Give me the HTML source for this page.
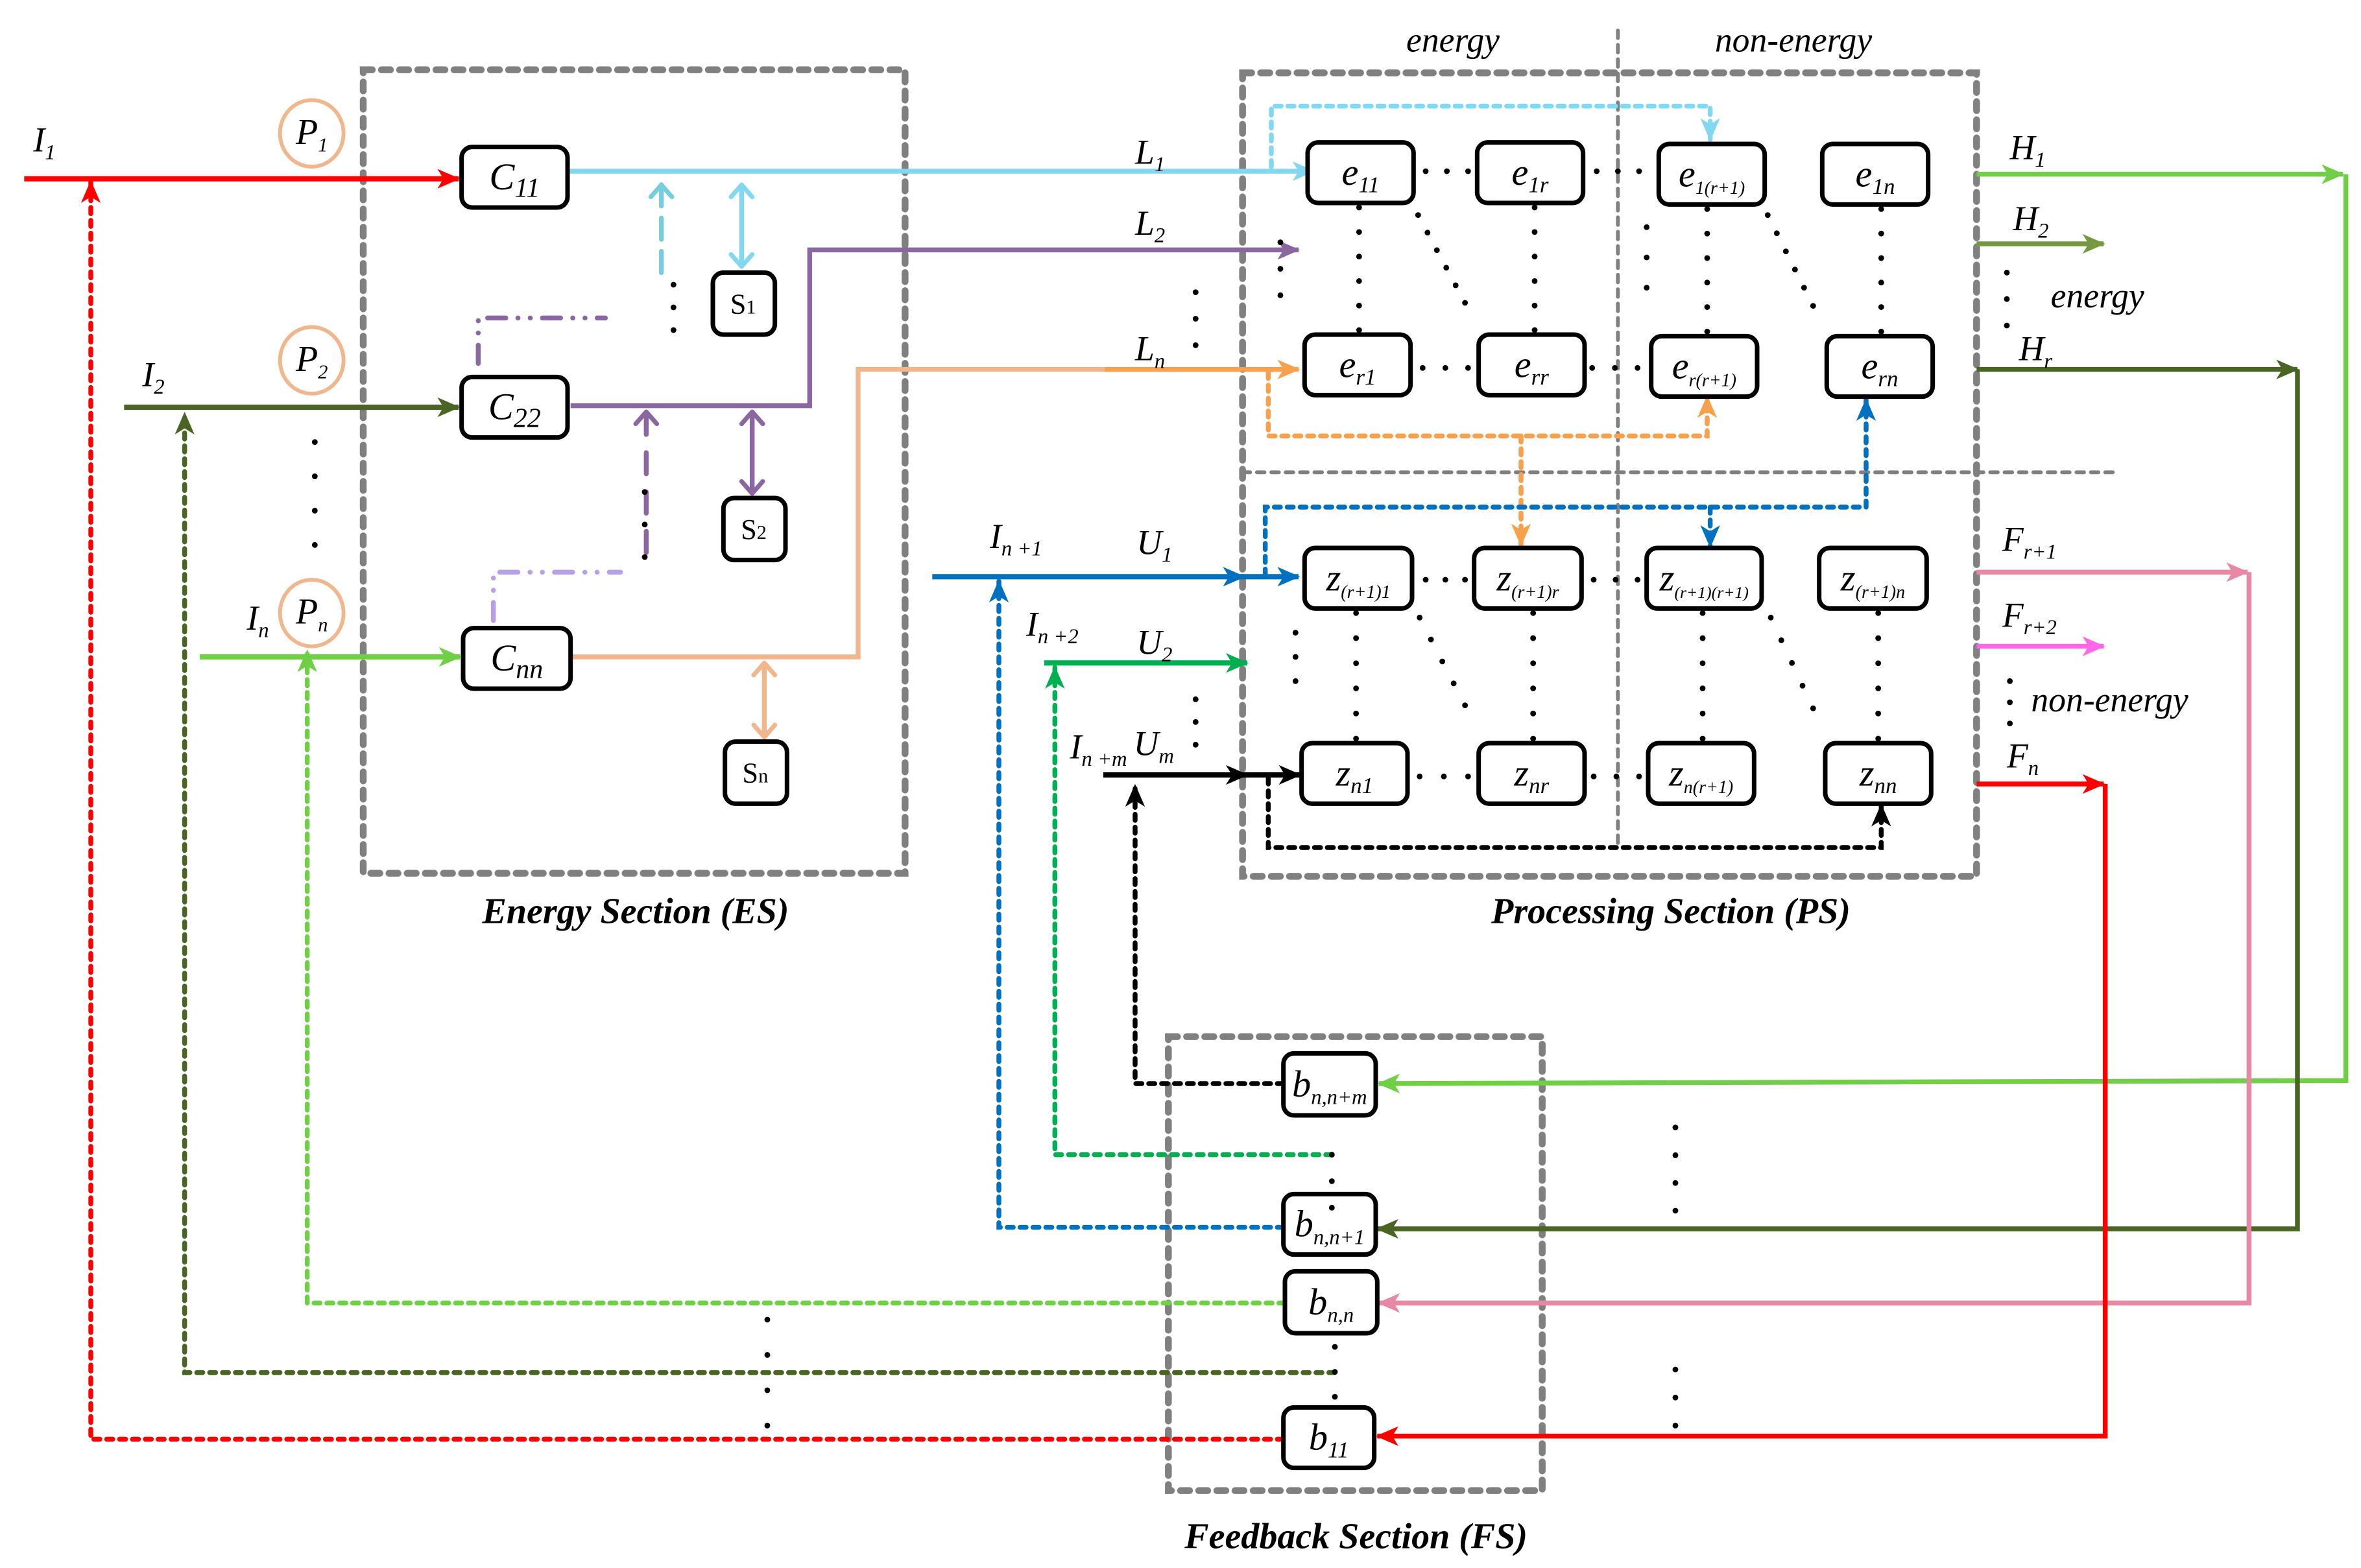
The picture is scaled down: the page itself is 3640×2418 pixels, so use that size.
<!DOCTYPE html>
<html><head><meta charset="utf-8"><style>
html,body{margin:0;padding:0;background:#fff;}
svg{display:block;}
svg text{font-family:"Liberation Serif","Times New Roman",serif !important;font-style:italic;fill:#000;}
</style></head><body>
<svg id="s" xmlns="http://www.w3.org/2000/svg" width="3640" height="2418" viewBox="0 0 1560 1036" font-family="Liberation Serif, serif">
</svg>
<script>
var o='';
var cols={red:'#ff0000',dg:'#4a6424',lg:'#6fcf45',lb:'#82d8f0',cy:'#74cedd',pu:'#8a67a0',lav:'#b8a0e8',pe:'#f2b68c',or:'#f8a04c',bl:'#0070c0',gr:'#00b050',bk:'#000000',ol:'#76983e',pk:'#e888a4',mg:'#ff66e8'};
var defs='<defs>';
for(var k in cols){
 defs+='<marker id="f'+k+'" markerUnits="userSpaceOnUse" markerWidth="16" markerHeight="14" refX="14" refY="7" orient="auto"><path d="M0,0.5 L15,7 L0,13.5 L4,7 z" fill="'+cols[k]+'"/></marker>';
 defs+='<marker id="c'+k+'" markerUnits="userSpaceOnUse" markerWidth="16" markerHeight="18" refX="10" refY="9" orient="auto"><path d="M2,2 L10,9 L2,16" fill="none" stroke="'+cols[k]+'" stroke-width="3" stroke-linecap="round" stroke-linejoin="round"/></marker>';
 defs+='<marker id="cs'+k+'" markerUnits="userSpaceOnUse" markerWidth="16" markerHeight="18" refX="2" refY="9" orient="auto"><path d="M10,2 L2,9 L10,16" fill="none" stroke="'+cols[k]+'" stroke-width="3" stroke-linecap="round" stroke-linejoin="round"/></marker>';
}
defs+='</defs>';
o+=defs;
function P(d,c,opt){opt=opt||{};var w=opt.w||3.2;var s='<path d="'+d+'" fill="none" stroke="'+cols[c]+'" stroke-width="'+w+'" stroke-linejoin="miter"';
 if(opt.dash)s+=' stroke-dasharray="'+opt.dash+'" stroke-linecap="round"';
 if(opt.end)s+=' marker-end="url(#'+opt.end+c+')"';
 if(opt.start)s+=' marker-start="url(#'+opt.start+c+')"';
 s+='/>';o+=s;}
var DD='4 4.5';
function G(d,w,dash){o+='<path d="'+d+'" fill="none" stroke="#808080" stroke-width="'+w+'" stroke-dasharray="'+dash+'" stroke-linecap="round"/>';}
G('M240,46 H598 V577 H240 Z',4.5,'6 6');
G('M821,48 H1306 V579 H821 Z',4.5,'6 6');
G('M772,685 H1019 V985 H772 Z',4.5,'6 6');
G('M1069,20 V560',2.5,'5 4.5');
G('M821,312 H1400',2.5,'5 4.5');
function dot(x,y){o+='<circle cx="'+x+'" cy="'+y+'" r="1.9" fill="#000"/>';}
function dl(x1,y1,x2,y2,n){for(var i=0;i<n;i++){var t=n==1?0:i/(n-1);dot(x1+(x2-x1)*t,y1+(y2-y1)*t);}}
var FF=' font-family="Liberation Serif, Times New Roman, serif" font-style="italic"';
function N(x,y,w,h,lab){o+='<rect x="'+x+'" y="'+y+'" width="'+w+'" height="'+h+'" rx="7" fill="#fff" stroke="#000" stroke-width="3"/>';
 o+='<text'+FF+' x="'+(x+w/2)+'" y="'+(y+h/2+8)+'" text-anchor="middle" font-size="25">'+lab+'</text>';}
function sub(b,s,fs){return b+'<tspan font-size="'+(fs||14)+'" dy="5">'+s+'</tspan>';}
P('M16,118 H303','red',{end:'f',w:3.5});
P('M82,269 H303','dg',{end:'f',w:3.5});
P('M132,434 H304','lg',{end:'f',w:3.5});
P('M376,113 H868','lb',{end:'f'});
P('M490,176 V122','lb',{end:'c',start:'cs'});
P('M437,180 V122','cy',{end:'c',dash:'14 8'});
P('M377,268 H535 V165 H858','pu',{end:'f'});
P('M497,326 V272','pu',{end:'c',start:'cs'});
P('M427,365 V272','pu',{end:'c',dash:'14 12'});
P('M316,240 V210 H400','pu',{dash:'12 8 0.1 8 0.1 8',w:3.2});
P('M378,434 H567 V244 H732','pe',{});
P('M730,244 H858','or',{end:'f'});
P('M505,487 V438','pe',{end:'c',start:'cs'});
P('M326,410 V378 H410','lav',{dash:'12 8 0.1 8 0.1 8',w:3.2});
P('M840,110 V70 H1130 V92','lb',{dash:DD,end:'f'});
P('M838,246 V288 H1128 V262','or',{dash:DD,end:'f'});
P('M1005,288 V360','or',{dash:DD,end:'f'});
P('M836,380 V335 H1233 V264','bl',{dash:DD,end:'f'});
P('M1130,335 V361','bl',{dash:DD,end:'f'});
P('M838,514 V560 H1243 V532','bk',{dash:DD,end:'f'});
P('M616,381 H822','bl',{end:'f',w:3.5});P('M820,381 H858','bl',{end:'f',w:3.5});
P('M690,438 H824','gr',{end:'f',w:3.5});
P('M729,512 H824','bk',{end:'f',w:3.5});P('M820,512 H859','bk',{end:'f',w:3.5});
P('M1306,115 H1548','lg',{end:'f'});
P('M1550,115 V714 L911,716','lg',{end:'f'});
P('M1306,161 H1390','ol',{end:'f'});
P('M1306,244 H1518','dg',{end:'f'});
P('M1518,244 V812 H910','dg',{end:'f'});
P('M1306,378 H1485','pk',{end:'f'});
P('M1486,378 V861 H911','pk',{end:'f'});
P('M1306,427 H1390','mg',{end:'f'});
P('M1306,518 H1390','red',{end:'f'});
P('M1391,518 V949 H910','red',{end:'f'});
P('M848,716 H750 V519','bk',{dash:DD,end:'f'});
P('M880,763 H697 V441','gr',{dash:DD,end:'f'});
P('M848,811 H660 V384','bl',{dash:DD,end:'f'});
P('M849,861 H203 V430','lg',{dash:DD,end:'f'});
P('M882,907 H122 V273','dg',{dash:DD,end:'f'});
P('M848,951 H60 V120','red',{dash:DD,end:'f'});
function C(x,y,lab){o+='<ellipse cx="'+x+'" cy="'+y+'" rx="21" ry="22" fill="none" stroke="#f2b68c" stroke-width="2.5"/><text'+FF+' x="'+(x)+'" y="'+(y+7)+'" text-anchor="middle" font-size="24">'+lab+'</text>';}
C(206,88,sub('P','1',13));C(206,238,sub('P','2',13));C(206,405,sub('P','n',13));
N(305,97,70,40,sub('C','11',18));N(305,249,70,40,sub('C','22',18));N(306,415,71,40,sub('C','nn',18));
function S(x,y,lab){o+='<rect x="'+x+'" y="'+y+'" width="41" height="41" rx="7" fill="#fff" stroke="#000" stroke-width="3"/><text font-family="Liberation Serif, Times New Roman, serif" x="'+(x+20)+'" y="'+(y+27)+'" text-anchor="middle" font-size="19" style="font-style:normal !important">S<tspan font-size="13">'+lab+'</tspan></text>';}
S(471,180,'1');S(478,329,'2');S(479,490,'n');
var ew=70,eh=40;
N(864,94,ew,eh,sub('e','11',15));N(976,94,ew,eh,sub('e','1r',15));N(1096,95,ew,eh,sub('e','1(r+1)',12));N(1204,95,ew,eh,sub('e','1n',15));
N(862,221,ew,eh,sub('e','r1',15));N(977,221,ew,eh,sub('e','rr',15));N(1091,222,ew,eh,sub('e','r(r+1)',12));N(1207,222,ew,eh,sub('e','rn',15));
N(862,362,71,40,sub('z','(r+1)1',12));N(974,362,71,40,sub('z','(r+1)r',12));N(1088,362,76,40,sub('z','(r+1)(r+1)',11));N(1202,362,71,40,sub('z','(r+1)n',12));
N(860,491,70,40,sub('z','n1',15));N(977,491,70,40,sub('z','nr',15));N(1089,491,70,40,sub('z','n(r+1)',12));N(1206,491,70,40,sub('z','nn',15));
N(848,696,61,41,sub('b','n,n+m',14));N(848,789,61,40,sub('b','n,n+1',14));N(849,840,61,41,sub('b','n,n',14));N(848,930,60,40,sub('b','11',15));
dl(942,113,970,113,3);dl(1055,113,1083,113,3);
dl(940,243,970,243,3);dl(1052,243,1082,243,3);
dl(942,383,968,383,3);dl(1053,383,1082,383,3);
dl(938,513,970,513,3);dl(1053,513,1083,513,3);
dl(898,137,898,218,6);dl(1014,137,1014,218,6);dl(1128,138,1128,219,6);dl(1243,138,1243,219,6);
dl(937,142,968,200,6);dl(1168,142,1198,202,6);
dl(846,160,846,195,3);dl(1088,150,1088,190,3);
dl(896,405,896,488,6);dl(1013,405,1013,488,6);dl(1125,405,1125,488,6);dl(1241,405,1241,488,6);
dl(938,408,968,466,5);dl(1170,408,1198,468,5);
dl(856,418,856,450,3);
dl(208,292,208,360,4);dl(445,188,445,218,3);dl(426,325,426,368,3);
dl(790,193,790,228,3);dl(790,462,790,492,3);
dl(880,763,880,798,3);dl(882,890,882,923,3);
dl(1107,745,1107,800,4);dl(1107,905,1107,942,3);dl(507,872,507,942,4);
dl(1326,180,1326,215,3);dl(1328,450,1328,478,3);
function T(x,y,html,fs,anchor){o+='<text'+FF+' x="'+x+'" y="'+y+'" font-size="'+(fs||23)+'"'+(anchor?' text-anchor="'+anchor+'"':'')+'>'+html+'</text>';}
T(22,100,sub('I','1'));T(94,255,sub('I','2'));T(163,416,sub('I','n'));
T(750,108,sub('L','1'));T(750,155,sub('L','2'));T(750,238,sub('L','n'));
T(654,362,sub('I','n +1'));T(751,366,sub('U','1'));
T(678,420,sub('I','n +2'));T(751,432,sub('U','2'));
T(707,501,sub('I','n +m'));T(749,499,sub('U','m'));
T(1328,105,sub('H','1'));T(1330,152,sub('H','2'));T(1355,203,'energy');T(1334,238,sub('H','r'));
T(1323,364,sub('F','r+1'));T(1323,414,sub('F','r+2'));T(1342,470,'non-energy');T(1326,507,sub('F','n'));
T(960,34,'energy',23,'middle');T(1185,34,'non-energy',23,'middle');
o+='<text'+FF+' x="420" y="610" text-anchor="middle" font-size="24" font-weight="bold">Energy Section (ES)</text>';
o+='<text'+FF+' x="1104" y="610" text-anchor="middle" font-size="24" font-weight="bold">Processing Section (PS)</text>';
o+='<text'+FF+' x="896" y="1023" text-anchor="middle" font-size="24" font-weight="bold">Feedback Section (FS)</text>';
document.getElementById('s').innerHTML=o;
</script>
</body></html>
